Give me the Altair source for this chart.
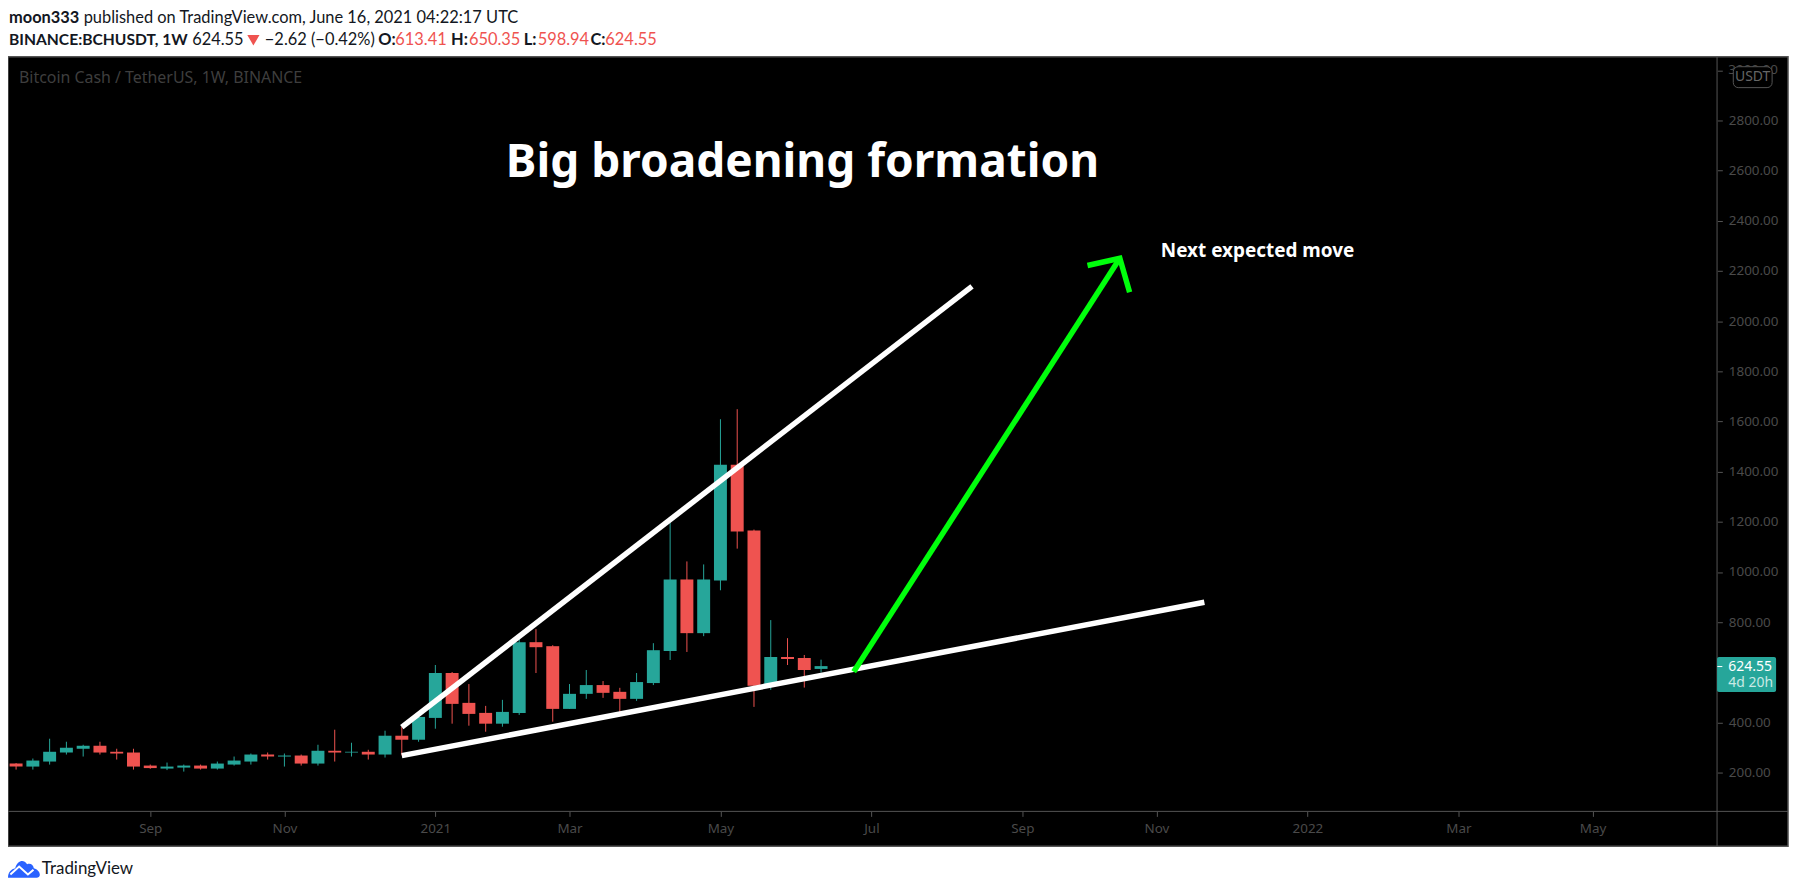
import altair as alt
import pandas as pd

# weekly candles, first bar opens 2020-07-13
first_week = "2020-07-13"
opens = [236,224,244,280,295,307,283,280,228,216,220,228,216,232,244,272,264,268,236,287,280,283,272,347,331,418,597,478,438,395,438,720,704,454,514,549,522,494,557,685,970,756,966,1427,1165,546,661,657,613.41]
highs = [238,256,335,323,311,323,295,295,232,240,232,232,244,264,276,280,276,272,311,371,319,291,367,383,425,629,601,553,466,490,732,772,708,553,609,565,538,597,716,1195,1042,1030,1609,1649,1169,808,736,669,650.35]
lows = [212,212,232,272,264,272,252,212,215,210,204,212,212,228,232,252,224,228,228,244,264,252,260,269,323,375,395,387,363,383,430,597,403,454,494,498,438,486,549,649,681,744,927,1093,462,530,629,539,598.94]
closes = [224,248,283,299,307,280,276,224,218,224,228,216,236,248,272,264,268,236,287,280,283,272,347,331,422,597,474,434,395,442,720,700,454,514,549,518,494,561,688,970,756,970,1427,1161,546,661,653,609,624.55]

price_ticks = [200,400,800,1000,1200,1400,1600,1800,2000,2200,2400,2600,2800,3000]
time_ticks = ["2020-09-07","2020-11-02","2021-01-04","2021-03-01","2021-05-03","2021-07-05","2021-09-06","2021-11-01","2022-01-03","2022-03-07","2022-05-02"]

upper_t = ["2020-12-21","2021-08-16"]
upper_p = [381.5,2139]
lower_t = ["2020-12-21","2021-11-21"]
lower_p = [267.6,879]
shaft_t = ["2021-06-27T15:00:00","2021-10-16T17:00:00"]
shaft_p = [602,2251]
head_t = ["2021-10-03T05:00:00","2021-10-16T17:00:00","2021-10-20T19:00:00"]
head_p = [2222,2251,2115]

def ms(s):
    return int(pd.Timestamp(s).value // 10**6)

def iso(s):
    return pd.Timestamp(s).strftime("%Y-%m-%dT%H:%M:%SZ")

OX, OY = 8, 55
W, H = 1717, 758
PANEL_R, PANEL_B = 1796, 848
UP, DOWN = "#26a69a", "#ef5350"
FONT = "Noto Sans"
HEAD = "Lato"
GRID = "#555555"
DIM = "#4a4a4a"

dates = pd.date_range(first_week, periods=len(opens), freq="7D")
df = pd.DataFrame({
    "t": [d.strftime("%Y-%m-%dT%H:%M:%SZ") for d in dates],
    "o": opens, "h": highs, "l": lows, "c": closes,
})
df["lo"] = df[["o", "c"]].min(axis=1)
df["hi"] = df[["o", "c"]].max(axis=1)
df["dir"] = ["up" if c >= o else "down" for o, c in zip(opens, closes)]

xs = alt.Scale(type="utc", domain=[ms("2020-07-11T16:48:00"), ms("2022-06-21T01:00:00")])
ys = alt.Scale(type="linear", domain=[45.3, 3054.3], nice=False, zero=False)
col = alt.Color("dir:N", scale=alt.Scale(domain=["up", "down"], range=[UP, DOWN]), legend=None)

x_axis = alt.Axis(
    title=None, values=[ms(t) for t in time_ticks], domain=False, grid=False, zindex=1,
    labelExpr="utcmonth(datum.value)==0 ? utcFormat(datum.value,'%Y') : utcFormat(datum.value,'%b')",
    labelColor=DIM, labelFont=FONT, labelFontSize=13.5, labelPadding=5, labelOverlap=False,
    tickColor=GRID, tickSize=5, tickWidth=1, labelBound=False, labelFlush=False,
)
y_axis = alt.Axis(
    title=None, orient="right", values=price_ticks, domain=False, grid=False, zindex=1,
    labelExpr="datum.value==3000 ? '' : format(datum.value,'.2f')",
    labelColor=DIM, labelFont=FONT, labelFontSize=13.5, labelPadding=6, labelOverlap=False,
    tickColor=GRID, tickSize=5, tickWidth=1, labelBound=False,
)

one = pd.DataFrame({"a": [1]})

def box(x0, y0, x1, y1, **kw):
    return alt.Chart(one).mark_rect(**kw).encode(
        x=alt.value(x0 - OX), x2=alt.value(x1 - OX), y=alt.value(y0 - OY), y2=alt.value(y1 - OY))

def rule(x0, y0, x1, y1, color=GRID, width=1):
    return alt.Chart(one).mark_rule(color=color, strokeWidth=width).encode(
        x=alt.value(x0 - OX), x2=alt.value(x1 - OX), y=alt.value(y0 - OY), y2=alt.value(y1 - OY))

def label(text, x, y, size=16.5, color="#131722", bold=False, align="left", font=HEAD):
    return alt.Chart(pd.DataFrame({"s": [text]})).mark_text(
        align=align, baseline="middle", fontSize=size, color=color, font=font,
        fontWeight="bold" if bold else "normal",
    ).encode(text="s:N", x=alt.value(x - OX), y=alt.value(y - OY))

def line(ts, ps, color, width):
    d = pd.DataFrame({"t": [iso(t) for t in ts], "p": ps, "i": list(range(len(ps)))})
    return alt.Chart(d).mark_line(color=color, strokeWidth=width, strokeCap="butt", strokeJoin="miter", clip=False).encode(
        x=alt.X("t:T", scale=xs, axis=x_axis), y=alt.Y("p:Q", scale=ys, axis=y_axis), order="i:Q")

panel = box(OX, OY, PANEL_R, PANEL_B, color="#000000", stroke=GRID, strokeWidth=1.5)
wicks = alt.Chart(df).mark_rule(strokeWidth=1).encode(
    x=alt.X("t:T", scale=xs, axis=x_axis),
    y=alt.Y("l:Q", scale=ys, axis=y_axis), y2="h:Q", color=col)
bodies = alt.Chart(df).mark_bar(size=13, stroke=None).encode(
    x=alt.X("t:T", scale=xs, axis=x_axis),
    y=alt.Y("lo:Q", scale=ys, axis=y_axis), y2="hi:Q", color=col)

cloud = alt.Chart(one).mark_point(
    filled=True, opacity=1, color="#2962ff", size=1024,
    shape="M-1,0.6 C-1,0.25 -0.8,0.05 -0.55,0 C-0.4,-0.45 -0.05,-0.6 0.2,-0.25 C0.4,-0.35 0.6,-0.2 0.62,0 C0.85,0.05 1,0.25 1,0.42 C1,0.55 0.9,0.6 0.8,0.6 Z",
).encode(x=alt.value(24 - OX), y=alt.value(870 - OY))
cloud_line = alt.Chart(one).mark_point(
    filled=False, opacity=1, color="#ffffff", size=1024, strokeWidth=2,
    shape="M-0.85,0.4 L-0.3,-0.1 L0.25,0.4 L0.6,0.1",
).encode(x=alt.value(24 - OX), y=alt.value(870 - OY))

triangle = alt.Chart(one).mark_point(
    filled=True, opacity=1, color=DOWN, shape="triangle-down", size=150,
).encode(x=alt.value(254.5 - OX), y=alt.value(38.5 - OY))

usdt = alt.Chart(one).mark_rect(color="#000000", stroke=GRID, strokeWidth=1, cornerRadius=5).encode(
    x=alt.value(1741 - OX), x2=alt.value(1780 - OX), y=alt.value(65 - OY), y2=alt.value(86 - OY))

chart = alt.layer(
    panel,
    rule(OX, 813, PANEL_R, 813),
    rule(1724.7, OY, 1724.7, PANEL_B),
    wicks, bodies,
    line(upper_t, upper_p, "#ffffff", 5.5),
    line(lower_t, lower_p, "#ffffff", 5.5),
    line(shaft_t, shaft_p, "#00ff0c", 5.5),
    line(head_t, head_p, "#00ff0c", 5.5),
    label("Big broadening formation", 806, 162, size=46.2, color="#ffffff", bold=True, align="center", font=FONT),
    label("Next expected move", 1166, 250, size=19, color="#ffffff", bold=True, font=FONT),
    label("Bitcoin Cash / TetherUS, 1W, BINANCE", 19, 76, size=16, color="#3e3e3e", font=FONT),
    label("3000.00", 1736, 68.5, size=13.5, color=DIM, font=FONT),
    usdt,
    label("USDT", 1760.5, 75.5, size=14, color="#666666", align="center", font=FONT),
    alt.Chart(one).mark_rect(color=UP, cornerRadius=2).encode(
        x=alt.value(1724.7 - OX), x2=alt.value(1784 - OX), y=alt.value(658 - OY), y2=alt.value(693 - OY)),
    rule(1725, 667.5, 1730, 667.5, color="#ffffff"),
    label("624.55", 1736, 668, size=14, color="#ffffff", font=FONT),
    label("4d 20h", 1736, 684, size=14, color="#c9e9e5", font=FONT),
    label("moon333", 9, 16, bold=True),
    label("published on TradingView.com, June 16, 2021 04:22:17 UTC", 84, 16),
    label("BINANCE:BCHUSDT, 1W", 9, 38.5, size=15.7, bold=True),
    label("624.55", 193, 38.5),
    triangle,
    label("\u22122.62 (\u22120.42%)", 266, 38.5),
    label("O:", 380, 38.5, bold=True),
    label("613.41", 397, 38.5, color=DOWN),
    label("H:", 453, 38.5, bold=True),
    label("650.35", 471, 38.5, color=DOWN),
    label("L:", 526, 38.5, bold=True),
    label("598.94", 540, 38.5, color=DOWN),
    label("C:", 593, 38.5, bold=True),
    label("624.55", 608, 38.5, color=DOWN),
    cloud, cloud_line,
    label("TradingView", 42, 871, size=17),
).properties(
    width=W, height=H,
    autosize=alt.AutoSizeParams(type="none"),
    padding={"left": 0, "top": 47, "right": 80, "bottom": 80},
).configure_view(stroke=None)

chart.save("out.html", embed_options={"renderer": "svg", "actions": False})
